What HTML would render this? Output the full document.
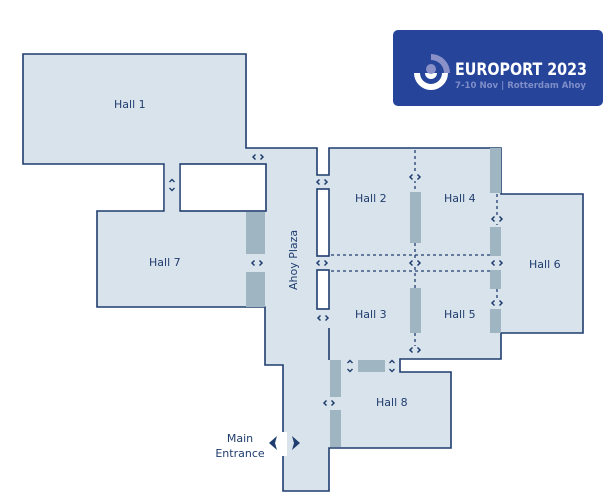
<!DOCTYPE html>
<html><head><meta charset="utf-8"><style>
html,body{margin:0;padding:0;background:#fff;width:610px;height:499px;overflow:hidden}
svg{display:block}
text{font-family:"DejaVu Sans","Liberation Sans",sans-serif;fill:#1f3d6e}
</style></head><body>
<svg width="610" height="499" viewBox="0 0 610 499" xmlns="http://www.w3.org/2000/svg">
<defs>
<g id="lr"><rect x="-8" y="-4" width="16" height="8" fill="#d9e3ec"/><path d="M-2.5 -2.5 L-5 0 L-2.5 2.5 M2.5 -2.5 L5 0 L2.5 2.5" fill="none" stroke="#1f3d6e" stroke-width="1.5"/></g>
<g id="ud"><path d="M-2.5 -3 L0 -5.5 L2.5 -3 M-2.5 3 L0 5.5 L2.5 3" fill="none" stroke="#1f3d6e" stroke-width="1.4"/></g>
</defs>
<!-- logo -->
<rect x="393" y="30" width="210" height="76" rx="5" fill="#25449a"/>
<path d="M414 73 A17 17 0 0 0 448 73 Z" fill="#fff"/>
<path d="M420 73 A11 11 0 0 0 442 73 Z" fill="#25449a"/>
<path d="M425 73 A6 6 0 0 0 437 73 Z" fill="#fff"/>
<path d="M431 54 A19 19 0 0 1 450 73 L444 73 A13 13 0 0 0 431 60 Z" fill="#8a90c8"/>
<circle cx="431" cy="69" r="5" fill="#8a90c8"/>
<text x="455" y="75" font-size="16.5" font-weight="bold" style="fill:#fff" textLength="132" lengthAdjust="spacingAndGlyphs">EUROPORT 2023</text>
<text x="455" y="88" font-size="9" font-weight="bold" style="fill:#7f8ec8" textLength="131" lengthAdjust="spacingAndGlyphs">7-10 Nov | Rotterdam Ahoy</text>

<polygon points="23,54 246,54 246,148 317,148 317,175 329,175 329,148 501,148 501,194 583,194 583,333 501,333 501,359 400,359 400,372 451,372 451,448 329,448 329,491 283,491 283,365 265,365 265,307 97,307 97,211 164,211 164,164 23,164" fill="#d9e3ec" stroke="#1f3d6e" stroke-width="1.6"/>
<rect x="180" y="164" width="86" height="47" fill="#fff" stroke="#1f3d6e" stroke-width="1.6"/>
<rect x="164.8" y="163" width="14.4" height="49" fill="#d9e3ec"/>
<rect x="317" y="189" width="12" height="67" fill="#fff" stroke="#1f3d6e" stroke-width="1.6"/>
<rect x="317" y="270" width="12" height="39" fill="#fff" stroke="#1f3d6e" stroke-width="1.6"/>
<line x1="329" y1="328" x2="329" y2="360" stroke="#1f3d6e" stroke-width="1.6"/>
<rect x="280" y="432" width="7" height="24" fill="#fff"/>

<g fill="#9fb5c2">
<rect x="246" y="212" width="19" height="42"/>
<rect x="246" y="272" width="19" height="35"/>
<rect x="410" y="192" width="11" height="51"/>
<rect x="410" y="288" width="11" height="45"/>
<rect x="490" y="148" width="11" height="45"/>
<rect x="490" y="227" width="11" height="29"/>
<rect x="490" y="270" width="11" height="19"/>
<rect x="490" y="309" width="11" height="24"/>
<rect x="330" y="360" width="11" height="37"/>
<rect x="330" y="410" width="11" height="37"/>
<rect x="358" y="360" width="27" height="12"/>
</g>
<g stroke="#1f3d6e" stroke-width="1.3" stroke-dasharray="3,3" fill="none">
<line x1="331" y1="255" x2="490" y2="255"/>
<line x1="331" y1="271" x2="490" y2="271"/>
<line x1="415" y1="150" x2="415" y2="192"/>
<line x1="415" y1="243" x2="415" y2="288"/>
<line x1="415" y1="333" x2="415" y2="350"/>
<line x1="497" y1="194" x2="497" y2="225"/>
<line x1="497" y1="289" x2="497" y2="307"/>
</g>
<use href="#lr" x="258" y="157"/>
<use href="#lr" x="322" y="182"/>
<use href="#lr" x="415" y="177"/>
<use href="#lr" x="497" y="219"/>
<use href="#lr" x="257" y="263"/>
<use href="#lr" x="322" y="263"/>
<use href="#lr" x="415" y="263"/>
<use href="#lr" x="497" y="263"/>
<use href="#lr" x="497" y="303"/>
<use href="#lr" x="323" y="318"/>
<use href="#lr" x="415" y="350"/>
<use href="#lr" x="329" y="403"/>
<use href="#ud" x="172" y="185"/>
<use href="#ud" x="350" y="366"/>
<use href="#ud" x="392" y="366"/>
<g fill="#1f3d6e">
<path d="M277 436 L269 443 L277 450 L275 443Z"/>
<path d="M292 436 L300 443 L292 450 L294 443Z"/>
</g>
<g font-size="11">
<text x="114" y="108">Hall 1</text>
<text x="149" y="266">Hall 7</text>
<text x="355" y="202">Hall 2</text>
<text x="444" y="202">Hall 4</text>
<text x="529" y="268">Hall 6</text>
<text x="355" y="318">Hall 3</text>
<text x="444" y="318">Hall 5</text>
<text x="376" y="406">Hall 8</text>
<text x="240" y="442" text-anchor="middle">Main</text>
<text x="240" y="457" text-anchor="middle">Entrance</text>
<text x="0" y="0" transform="translate(297,290) rotate(-90)">Ahoy Plaza</text>
</g>
</svg>
</body></html>
